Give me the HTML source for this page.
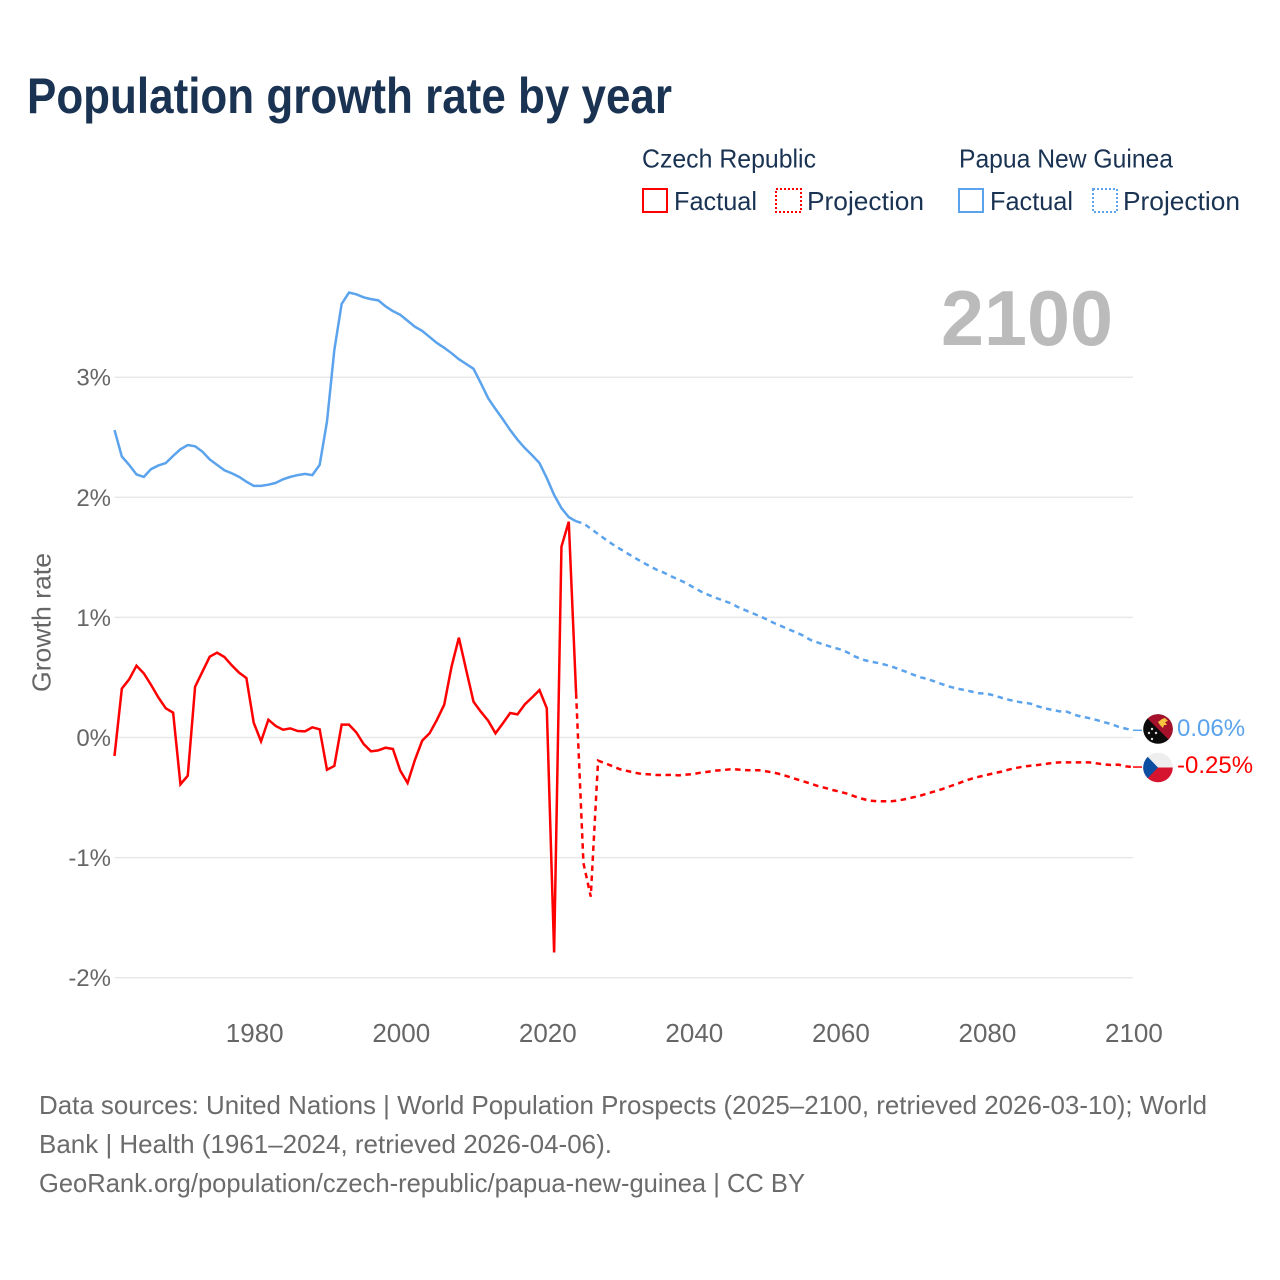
<!DOCTYPE html>
<html lang="en">
<head>
<meta charset="utf-8">
<title>Population growth rate by year</title>
<style>
  html, body { margin: 0; padding: 0; background: #ffffff; }
  svg { display: block; font-family: "Liberation Sans", sans-serif; }
</style>
</head>
<body>
<svg id="chart" xmlns="http://www.w3.org/2000/svg" width="1280" height="1280" viewBox="0 0 1280 1280">
  <defs>
    <clipPath id="flag-clip-png"><circle cx="1158" cy="729" r="14.8"/></clipPath>
    <clipPath id="flag-clip-cz"><circle cx="1158" cy="767.5" r="14.8"/></clipPath>
  </defs>
  <rect x="0" y="0" width="1280" height="1280" fill="#ffffff"/>

  <text x="27" y="113" font-size="50" font-weight="700" fill="#1a3353" textLength="645" lengthAdjust="spacingAndGlyphs">Population growth rate by year</text>

  <g font-size="26" fill="#1a3353">
    <text x="642" y="167.5" textLength="174" lengthAdjust="spacingAndGlyphs">Czech Republic</text>
    <text x="959" y="167.5" textLength="214" lengthAdjust="spacingAndGlyphs">Papua New Guinea</text>
    <rect x="643" y="189" width="24" height="23" fill="none" stroke="#ff0000" stroke-width="2"/>
    <text x="674" y="210" textLength="83" lengthAdjust="spacingAndGlyphs">Factual</text>
    <rect x="776" y="189" width="25" height="23" fill="none" stroke="#ff0000" stroke-width="2" stroke-dasharray="2 2"/>
    <text x="807" y="210" textLength="117" lengthAdjust="spacingAndGlyphs">Projection</text>
    <rect x="959" y="189" width="24" height="23" fill="none" stroke="#5ba3ec" stroke-width="2"/>
    <text x="990" y="210" textLength="83" lengthAdjust="spacingAndGlyphs">Factual</text>
    <rect x="1093" y="189" width="24" height="23" fill="none" stroke="#5ba3ec" stroke-width="2" stroke-dasharray="2 2"/>
    <text x="1123" y="210" textLength="117" lengthAdjust="spacingAndGlyphs">Projection</text>
  </g>

  <g id="grid"></g>
  <g id="y-ticks"></g>
  <g id="x-ticks"></g>

  <text transform="translate(50.5,622.5) rotate(-90)" text-anchor="middle" font-size="26" fill="#666666" textLength="139" lengthAdjust="spacingAndGlyphs">Growth rate</text>

  <text x="941" y="345" font-size="78" font-weight="700" fill="#bbbbbb" textLength="172" lengthAdjust="spacingAndGlyphs">2100</text>

  <g id="series"></g>

  <g clip-path="url(#flag-clip-png)">
    <rect x="1142" y="713" width="32" height="32" fill="#0b0b0b"/>
    <polygon points="1142,713 1174,713 1174,745" fill="#a5102a"/>
    <polygon points="1158,722 1162,719 1165,718 1168,721 1165,722 1167,725 1164,725 1163,728 1160,725" fill="#f5c542"/>
    <circle cx="1152" cy="729" r="1.2" fill="#dddddd"/>
    <circle cx="1149" cy="733" r="1.2" fill="#dddddd"/>
    <circle cx="1156" cy="733" r="1.2" fill="#dddddd"/>
    <circle cx="1152" cy="739" r="1.2" fill="#dddddd"/>
  </g>
  <g clip-path="url(#flag-clip-cz)">
    <rect x="1142" y="752" width="32" height="16" fill="#eeeeee"/>
    <rect x="1142" y="767.5" width="32" height="16" fill="#d7142f"/>
    <polygon points="1142,751 1158,767.5 1142,784" fill="#0b4ea2"/>
  </g>

  <text x="1177" y="736" font-size="24" fill="#5ba3ec">0.06%</text>
  <text x="1177" y="773" font-size="24" fill="#ff0000">-0.25%</text>

  <g font-size="26" fill="#6b6b6b">
    <text x="39" y="1114" textLength="1168" lengthAdjust="spacingAndGlyphs">Data sources: United Nations | World Population Prospects (2025–2100, retrieved 2026-03-10); World</text>
    <text x="39" y="1153" textLength="573" lengthAdjust="spacingAndGlyphs">Bank | Health (1961–2024, retrieved 2026-04-06).</text>
    <text x="39" y="1192" textLength="766" lengthAdjust="spacingAndGlyphs">GeoRank.org/population/czech-republic/papua-new-guinea | CC BY</text>
  </g>
</svg>
<script>
const factualStartYear = 1961;
const projectionStartYear = 2025;
const yTickValues = [3, 2, 1, 0, -1, -2];
const xTickYears = [1980, 2000, 2020, 2040, 2060, 2080, 2100];

const pngFactual = [
  2.56, 2.34, 2.27, 2.19, 2.17, 2.235, 2.265, 2.285, 2.345, 2.40,
  2.435, 2.425, 2.38, 2.315, 2.27, 2.225, 2.20, 2.17, 2.13, 2.095,
  2.095, 2.105, 2.12, 2.15, 2.17, 2.185, 2.195, 2.185, 2.27, 2.63,
  3.225, 3.61, 3.705, 3.69, 3.665, 3.65, 3.64, 3.59, 3.55, 3.52,
  3.47, 3.42, 3.385, 3.335, 3.285, 3.245, 3.20, 3.15, 3.11, 3.07,
  2.95, 2.825, 2.735, 2.65, 2.56, 2.48, 2.41, 2.35, 2.285, 2.16,
  2.02, 1.91, 1.835, 1.80
];
const pngProjection = [
  1.783, 1.739, 1.694, 1.65, 1.608, 1.57, 1.533, 1.497, 1.461, 1.428,
  1.397, 1.372, 1.342, 1.314, 1.286, 1.25, 1.217, 1.189, 1.164, 1.142,
  1.12, 1.089, 1.062, 1.037, 1.012, 0.984, 0.953, 0.928, 0.901, 0.876,
  0.848, 0.812, 0.79, 0.77, 0.751, 0.734, 0.71, 0.676, 0.651, 0.634,
  0.623, 0.609, 0.593, 0.57, 0.548, 0.523, 0.501, 0.487, 0.465, 0.443,
  0.423, 0.407, 0.396, 0.382, 0.368, 0.365, 0.351, 0.332, 0.315, 0.301,
  0.29, 0.282, 0.26, 0.243, 0.229, 0.218, 0.215, 0.19, 0.173, 0.162,
  0.146, 0.129, 0.112, 0.09, 0.074, 0.06
];
const czFactual = [
  -0.154, 0.407, 0.484, 0.598, 0.534, 0.437, 0.332, 0.243, 0.207, -0.39,
  -0.318, 0.423, 0.548, 0.673, 0.706, 0.67, 0.601, 0.54, 0.495, 0.123,
  -0.032, 0.148, 0.096, 0.065, 0.076, 0.054, 0.051, 0.085, 0.068, -0.268,
  -0.237, 0.107, 0.107, 0.043, -0.054, -0.115, -0.107, -0.085, -0.096, -0.276,
  -0.379, -0.187, -0.026, 0.035, 0.146, 0.273, 0.59, 0.831, 0.562, 0.298,
  0.215, 0.14, 0.035, 0.118, 0.204, 0.193, 0.276, 0.334, 0.395, 0.243,
  -1.79, 1.589, 1.797, 0.368
];
const czProjection = [
  -1.045, -1.325, -0.193, -0.215, -0.24, -0.265, -0.279, -0.293, -0.304, -0.307,
  -0.312, -0.312, -0.311, -0.315, -0.309, -0.304, -0.293, -0.285, -0.276, -0.271,
  -0.265, -0.266, -0.271, -0.273, -0.273, -0.282, -0.293, -0.307, -0.326, -0.346,
  -0.365, -0.384, -0.404, -0.42, -0.437, -0.451, -0.468, -0.49, -0.509, -0.526,
  -0.53, -0.531, -0.531, -0.525, -0.512, -0.498, -0.484, -0.465, -0.448, -0.429,
  -0.407, -0.386, -0.362, -0.343, -0.326, -0.312, -0.298, -0.285, -0.268, -0.254,
  -0.243, -0.235, -0.229, -0.221, -0.212, -0.207, -0.207, -0.207, -0.207, -0.207,
  -0.215, -0.223, -0.229, -0.226, -0.24, -0.246
];

const NS = 'http://www.w3.org/2000/svg';
const xScale = (year) => 114.5 + (year - 1961) * 7.327;
const yScale = (value) => 737.5 - value * 120.1;

function pathFrom(startYear, values) {
  return values.map((v, i) => (i ? 'L' : 'M') + xScale(startYear + i).toFixed(2) + ' ' + yScale(v).toFixed(2)).join(' ');
}
function addLine(parent, d, color, dashed) {
  const el = document.createElementNS(NS, 'path');
  el.setAttribute('d', d);
  el.setAttribute('fill', 'none');
  el.setAttribute('stroke', color);
  el.setAttribute('stroke-width', '2.5');
  el.setAttribute('stroke-linejoin', 'miter');
  if (dashed) el.setAttribute('stroke-dasharray', '5.5 4.5');
  parent.appendChild(el);
  return el;
}

const gridGroup = document.getElementById('grid');
const yTickGroup = document.getElementById('y-ticks');
const xTickGroup = document.getElementById('x-ticks');
const seriesGroup = document.getElementById('series');

yTickValues.forEach((v) => {
  const line = document.createElementNS(NS, 'line');
  line.setAttribute('x1', xScale(1961));
  line.setAttribute('x2', xScale(2100));
  line.setAttribute('y1', yScale(v));
  line.setAttribute('y2', yScale(v));
  line.setAttribute('stroke', '#e8e8e8');
  line.setAttribute('stroke-width', '1.5');
  
  
  gridGroup.appendChild(line);

  const label = document.createElementNS(NS, 'text');
  label.setAttribute('x', 111);
  label.setAttribute('y', yScale(v) + 8.5);
  label.setAttribute('text-anchor', 'end');
  label.setAttribute('font-size', '24');
  label.setAttribute('fill', '#666666');
  label.textContent = v + '%';
  
  
  yTickGroup.appendChild(label);
});

xTickYears.forEach((year) => {
  const label = document.createElementNS(NS, 'text');
  label.setAttribute('x', xScale(year) + 1);
  label.setAttribute('y', 1042);
  label.setAttribute('text-anchor', 'middle');
  label.setAttribute('font-size', '26');
  label.setAttribute('fill', '#666666');
  label.textContent = String(year);
  
  
  xTickGroup.appendChild(label);
});

const BLUE = '#5ba3ec';
const RED = '#ff0000';

const pngFactualLine = addLine(seriesGroup, pathFrom(factualStartYear, pngFactual), BLUE, false);



const pngProjectionLine = addLine(seriesGroup, pathFrom(projectionStartYear - 1, [pngFactual[pngFactual.length - 1]].concat(pngProjection)), BLUE, true);



const czFactualLine = addLine(seriesGroup, pathFrom(factualStartYear, czFactual), RED, false);



const czProjectionLine = addLine(seriesGroup, pathFrom(projectionStartYear - 1, [czFactual[czFactual.length - 1]].concat(czProjection)), RED, true);



const pngLast = pngProjection[pngProjection.length - 1];
const czLast = czProjection[czProjection.length - 1];

const pngConnector = addLine(seriesGroup, 'M' + xScale(2100) + ' ' + yScale(pngLast) + ' H1142', BLUE, false);
pngConnector.setAttribute('stroke-width', '1.5');



const czConnector = addLine(seriesGroup, 'M' + xScale(2100) + ' ' + yScale(czLast) + ' H1142', RED, false);
czConnector.setAttribute('stroke-width', '1.5');


</script>
</body>
</html>
